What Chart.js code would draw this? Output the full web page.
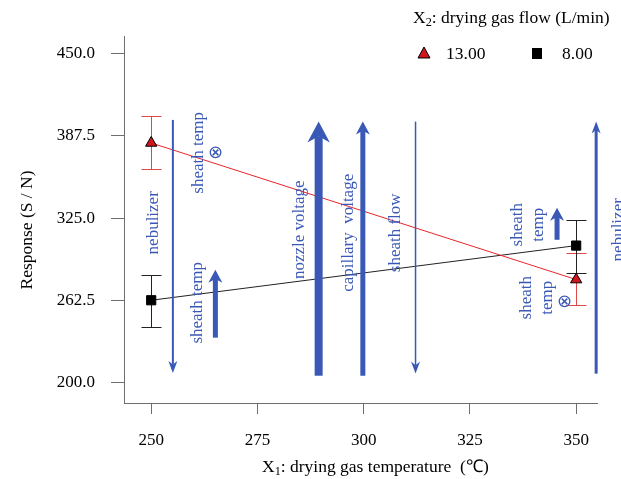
<!DOCTYPE html>
<html>
<head>
<meta charset="utf-8">
<script src="https://cdn.jsdelivr.net/npm/chart.js@4.4.1/dist/chart.umd.min.js"></script>
<style>
  html, body { margin: 0; padding: 0; background: #fff; }
  canvas { display: block; }
</style>
</head>
<body>
<canvas id="effectChart" width="621" height="479"></canvas>
<script>
// ── Data ───────────────────────────────────────────────────
const xTicks = [250, 275, 300, 325, 350];
const yTicks = [200, 262.5, 325, 387.5, 450];
const temps = [250, 350];

const legendTitle = ['X', '2', ': drying gas flow (L/min)'];
const seriesLabels = ['13.00', '8.00'];

const flowHigh      = [382.2, 278.5];
const flowHighLower = [362.4, 259.3];
const flowHighUpper = [402.4, 298.8];

const flowLow      = [262.8, 304.3];
const flowLowLower = [242.3, 283.6];
const flowLowUpper = [282.1, 323.5];

// arrows: x position, tail value, tip value (data units)
const arrowX    = [255.1, 265.1, 289.4, 299.8, 312.2, 345.5, 354.7];
const arrowFrom = [399.7, 234.4, 205.5, 205.5, 398.4, 308.7, 207.1];
const arrowTo   = [207.6, 285.9, 398.4, 398.4, 207.1, 333.0, 398.4];

// notes: text lines, centre x, centre y (data units)
const noteText = [['nebulizer'], ['sheath temp'], ['\u2297'], ['sheath temp'], ['nozzle voltage'],
                  ['capillary  voltage'], ['sheath flow'], ['nebulizer'], ['sheath', 'temp'],
                  ['sheath', 'temp'], ['\u2297']];
const noteX = [250.5, 261.1, 265.1, 260.8, 284.8, 296.4, 307.4, 359.9, 338.6, 340.8, 347.2];
const noteY = [321.6, 374.7, 374.7, 260.9, 316.3, 314.0, 314.0, 316.3, 320.1, 264.7, 261.1];

// ── Styles ─────────────────────────────────────────────────
const BLUE = '#3a59b6';
const AXIS = '#6e6e6e';
const FONT = "'Liberation Serif', 'Times New Roman', serif";
const arrowWidths = [2, 5, 8, 5, 1.5, 5, 3];

// ── Plugins ────────────────────────────────────────────────
function drawParts(ctx, parts, x, y, size) {
  // parts alternate normal / subscript
  parts.forEach((p, i) => {
    const sub = i % 2 === 1;
    ctx.font = (sub ? size * 0.7 : size) + 'px ' + FONT;
    ctx.fillText(p, x, y + (sub ? size * 0.28 : 0));
    x += ctx.measureText(p).width;
  });
}

const errorBars = {
  id: 'errorBars',
  beforeDatasetsDraw(chart) {
    const { ctx, scales: { x, y } } = chart;
    const sets = [[flowHighLower, flowHighUpper, '#e04848'], [flowLowLower, flowLowUpper, '#222']];
    ctx.save();
    sets.forEach(([lo, hi, color]) => {
      ctx.strokeStyle = color;
      ctx.lineWidth = 1;
      temps.forEach((t, i) => {
        const px = Math.round(x.getPixelForValue(t)) + 0.5;
        const y0 = Math.round(y.getPixelForValue(lo[i])) + 0.5;
        const y1 = Math.round(y.getPixelForValue(hi[i])) + 0.5;
        ctx.beginPath();
        ctx.moveTo(px, y0); ctx.lineTo(px, y1);
        ctx.moveTo(px - 10, y0); ctx.lineTo(px + 10, y0);
        ctx.moveTo(px - 10, y1); ctx.lineTo(px + 10, y1);
        ctx.stroke();
      });
    });
    ctx.restore();
  }
};

const annotations = {
  id: 'annotations',
  afterDatasetsDraw(chart) {
    const { ctx, scales: { x, y } } = chart;
    ctx.save();
    ctx.fillStyle = BLUE;
    ctx.strokeStyle = BLUE;
    // arrows
    arrowX.forEach((ax, i) => {
      const px = x.getPixelForValue(ax);
      const p0 = y.getPixelForValue(arrowFrom[i]);
      const p1 = y.getPixelForValue(arrowTo[i]);
      const w = arrowWidths[i];
      const dir = p1 < p0 ? -1 : 1;
      const headW = Math.max(9, w * 2.8);
      const headL = Math.max(12, w * 2.6);
      ctx.fillRect(px - w / 2, Math.min(p0, p1 - dir * headL * 0.7), w, Math.abs(p1 - dir * headL * 0.7 - p0));
      ctx.beginPath();
      ctx.moveTo(px, p1);
      ctx.lineTo(px - headW / 2, p1 - dir * headL);
      ctx.lineTo(px, p1 - dir * headL * 0.7);
      ctx.lineTo(px + headW / 2, p1 - dir * headL);
      ctx.closePath();
      ctx.fill();
    });
    // rotated notes
    ctx.textAlign = 'center';
    ctx.textBaseline = 'middle';
    noteText.forEach((lines, i) => {
      const px = x.getPixelForValue(noteX[i]);
      const py = y.getPixelForValue(noteY[i]);
      ctx.save();
      ctx.translate(px, py);
      if (lines[0] === '\u2297') {
        ctx.font = '18px ' + FONT;
        ctx.fillText(lines[0], 0, 0);
      } else {
        ctx.rotate(-Math.PI / 2);
        ctx.font = '17px ' + FONT;
        lines.forEach((ln, j) => ctx.fillText(ln, 0, (j - (lines.length - 1) / 2) * 21));
      }
      ctx.restore();
    });
    ctx.restore();
  },
  afterDraw(chart) {
    const { ctx } = chart;
    ctx.save();
    ctx.fillStyle = '#000';
    ctx.textBaseline = 'middle';
    ctx.textAlign = 'left';
    // legend
    drawParts(ctx, legendTitle, 413, 18, 17.5);
    ctx.font = '17.5px ' + FONT;
    ctx.fillStyle = '#d0161c';
    ctx.strokeStyle = '#000';
    ctx.lineWidth = 1;
    ctx.beginPath();
    ctx.moveTo(424, 47); ctx.lineTo(430, 58); ctx.lineTo(418, 58); ctx.closePath();
    ctx.fill(); ctx.stroke();
    ctx.fillStyle = '#000';
    ctx.fillRect(532, 48, 10, 11);
    ctx.fillText(seriesLabels[0], 446, 54);
    ctx.fillText(seriesLabels[1], 562, 54);
    // x title
    const xt = ['X', '1', ': drying gas temperature  (\u2103)'];
    drawParts(ctx, xt, 262, 467, 17.5);
    // y title
    ctx.translate(27, 230);
    ctx.rotate(-Math.PI / 2);
    ctx.textAlign = 'center';
    ctx.font = '17.5px ' + FONT;
    ctx.fillText('Response (S / N)', 0, 0);
    ctx.restore();
  }
};

// ── Chart ──────────────────────────────────────────────────
const ctx = document.getElementById('effectChart').getContext('2d');
const effectChart = new Chart(ctx, {
  type: 'line',
  data: {
    datasets: [{
      label: seriesLabels[0],
      data: temps.map((t, i) => ({ x: t, y: flowHigh[i] })),
      borderColor: '#e8252a',
      borderWidth: 1,
      pointStyle: 'triangle',
      pointRadius: 6.5,
      pointBackgroundColor: '#d0161c',
      pointBorderColor: '#000',
      pointBorderWidth: 1,
    }, {
      label: seriesLabels[1],
      data: temps.map((t, i) => ({ x: t, y: flowLow[i] })),
      borderColor: '#222',
      borderWidth: 1,
      pointStyle: 'rect',
      pointRadius: 6.5,
      pointBackgroundColor: '#000',
      pointBorderColor: '#000',
      pointBorderWidth: 1,
    }]
  },
  options: {
    responsive: false,
    animation: false,
    events: [],
    layout: { padding: { top: 36, right: 24, left: 0, bottom: 0 } },
    plugins: { legend: { display: false }, tooltip: { enabled: false } },
    scales: {
      x: {
        type: 'linear',
        min: 243.6,
        max: 354.9,
        afterBuildTicks: s => { s.ticks = xTicks.map(v => ({ value: v })); },
        afterFit: s => { s.height = 76; },
        grid: { drawOnChartArea: false, color: AXIS, tickLength: 11 },
        border: { color: AXIS, width: 1 },
        ticks: { color: '#000', padding: 16, font: { family: FONT, size: 17 }, maxRotation: 0 }
      },
      y: {
        type: 'linear',
        min: 184.8,
        max: 463.4,
        afterBuildTicks: s => { s.ticks = yTicks.map(v => ({ value: v })); },
        afterFit: s => { s.width = 124; },
        grid: { drawOnChartArea: false, color: AXIS, tickLength: 13 },
        border: { color: AXIS, width: 1 },
        ticks: { color: '#000', padding: 16, font: { family: FONT, size: 17 }, callback: v => v.toFixed(1) }
      }
    }
  },
  plugins: [errorBars, annotations]
});
</script>
</body>
</html>
